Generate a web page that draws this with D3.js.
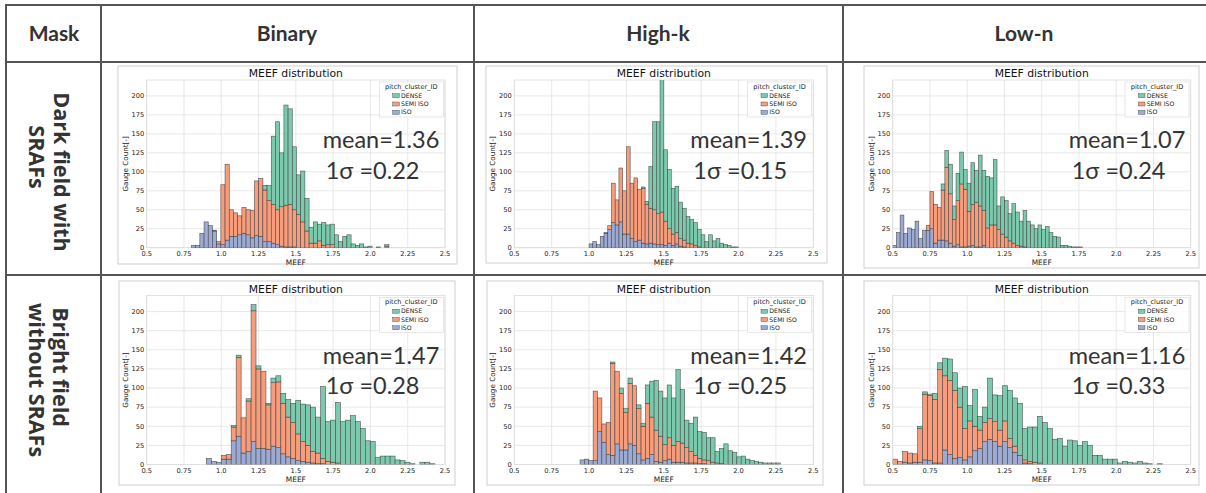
<!DOCTYPE html>
<html lang="en">
<head>
<meta charset="UTF-8">
<title>MEEF distribution by mask</title>
<script src="https://d3js.org/d3.v7.min.js"></script>
<style>
  html, body { margin: 0; padding: 0; background: #fff; }
  svg { display: block; }
</style>
</head>
<body>
<svg id="chart" width="1206" height="493"></svg>
<script>
// ---- data ----
const seriesNames = ["DENSE", "SEMI ISO", "ISO"];
const maskNames = ["Binary", "High-k", "Low-n"];
const rowLabels = [["Dark field with", "SRAFs"], ["Bright field", "without SRAFs"]];
const xTickValues = [0.5, 0.75, 1.0, 1.25, 1.5, 1.75, 2.0, 2.25, 2.5];
const xTickLabels = ["0.5", "0.75", "1.0", "1.25", "1.5", "1.75", "2.0", "2.25", "2.5"];
const yTickValues = [0, 25, 50, 75, 100, 125, 150, 175, 200];
const meanValues = ["1.36", "1.39", "1.07", "1.47", "1.42", "1.16"];
const sigmaValues = ["0.22", "0.15", "0.24", "0.28", "0.25", "0.33"];

// histogram bins (first edge, width) per panel
const binStart = [0.8, 1.0, 0.5, 0.9, 0.94, 0.5];
const binWidth = [0.02817, 0.025, 0.025, 0.0333, 0.02913, 0.0335];

// Binary, dark field
const binDarkIso = [3,3,19,34,29,22,5,4,10,15,15,17,19,17,13,16,15,8,8,6,4,2,1,1,1,0,0,0,0,0,0,0,0,0,0,0,0,0,0,0,0,0,0,0,0,0,0];
const binDarkSemi = [0,0,0,0,0,0,3,79,100,35,31,25,34,33,36,72,76,68,54,51,46,52,55,56,49,44,34,22,6,6,9,3,4,4,0,0,0,0,0,0,0,0,0,0,0,0,2];
const binDarkDense = [0,0,0,0,0,1,0,0,0,0,0,0,0,0,0,0,0,6,20,90,116,71,132,126,83,52,67,43,21,28,22,30,26,27,17,8,15,17,5,3,5,1,2,0,1,0,2];
// High-k, dark field
const hikDarkIso = [5,8,4,15,19,24,33,30,34,18,18,12,8,10,6,5,6,5,4,4,3,6,3,5,2,1,0,0,0,0,0,0,0,0,0,0,0,0,0,0];
const hikDarkSemi = [0,0,0,0,0,5,52,33,71,57,115,73,84,67,72,52,46,45,41,43,32,19,15,15,10,9,6,5,3,1,0,0,0,0,0,0,0,0,0,0];
const hikDarkDense = [0,0,0,0,1,0,0,0,0,0,0,0,0,0,2,4,55,116,121,175,94,78,60,61,48,42,35,32,30,23,17,8,17,9,12,6,4,3,1,1];
// Low-n, dark field
const lownDarkIso = [3,20,43,19,26,24,35,12,23,23,25,6,10,10,9,6,2,4,1,1,2,3,1,1,3,0,0,0,0,0,0,0,0,0,0,0,0,0,0,0,0,0,0,0,0,0,0,0,0,0,0];
const lownDarkSemi = [0,0,0,0,0,0,0,0,0,6,49,51,43,66,97,65,35,58,83,76,46,54,59,54,46,26,30,30,24,18,14,9,6,3,2,1,0,0,0,0,0,0,0,0,0,0,0,0,0,0,0];
const lownDarkDense = [0,0,0,0,0,0,0,0,0,0,0,0,0,8,22,39,18,36,42,26,37,55,42,67,53,68,62,86,31,49,48,36,52,44,33,48,35,30,25,30,24,28,20,15,14,3,3,2,1,1,1];
// Binary, bright field
const binBrightIso = [8,4,3,7,7,31,37,15,17,30,21,21,20,24,22,14,10,8,5,4,3,2,1,1,0,0,0,0,0,0,0,0,0,0,0,0,0,0,0,0,0,0,0,0,0,0];
const binBrightSemi = [0,0,0,5,6,18,103,46,66,171,104,101,58,83,86,66,52,47,35,26,22,15,14,7,4,3,2,0,0,0,0,0,0,0,0,0,0,0,0,0,0,0,0,0,0,0];
const binBrightDense = [0,0,0,0,0,2,3,0,3,8,4,0,2,6,8,13,23,25,44,49,53,58,47,94,52,55,79,56,58,64,56,47,31,30,9,11,11,11,6,5,3,1,0,3,3,1];
// High-k, bright field
const hikBrightIso = [6,7,5,5,43,29,13,12,27,19,19,27,25,14,6,8,13,4,3,5,7,3,3,3,2,2,2,1,1,0,0,0,0,0,0,0,0,0,0,0,0,0,0,0,0,0];
const hikBrightSemi = [0,0,0,91,44,24,42,120,95,74,49,79,78,59,44,72,49,41,34,21,28,22,27,25,20,15,10,7,5,5,3,2,1,0,0,0,0,0,0,0,0,0,0,0,0,0];
const hikBrightDense = [0,0,0,0,0,0,0,2,0,7,5,7,0,5,4,24,47,65,59,61,69,62,94,70,36,37,50,35,36,30,32,15,20,27,18,16,10,11,7,5,4,3,2,2,2,2];
// Low-n, bright field
const lownBrightIso = [0,0,3,2,3,3,6,5,2,2,19,13,8,9,6,10,18,21,30,33,30,24,30,22,16,12,2,1,0,0,0,0,0,0,0,0,0,0,0,0,0,0,0,0,0,0,0,0,0,0,0,0,0,0];
const lownBrightSemi = [7,4,14,13,11,44,86,85,83,122,97,97,89,66,41,47,32,24,25,27,26,21,27,12,8,0,4,3,3,2,0,0,0,0,0,0,0,0,0,0,0,0,0,0,0,0,0,0,0,0,0,0,0,0];
const lownBrightDense = [0,0,0,0,0,3,3,2,8,9,23,28,23,25,55,20,48,18,20,53,35,45,46,63,63,68,41,45,46,61,55,47,33,34,24,32,31,25,30,25,12,12,7,7,7,2,4,3,2,4,2,1,0,1];

// ---- drawing ----
const panelSeries = [
  [binDarkIso, binDarkSemi, binDarkDense],
  [hikDarkIso, hikDarkSemi, hikDarkDense],
  [lownDarkIso, lownDarkSemi, lownDarkDense],
  [binBrightIso, binBrightSemi, binBrightDense],
  [hikBrightIso, hikBrightSemi, hikBrightDense],
  [lownBrightIso, lownBrightSemi, lownBrightDense]
];

// frame box and axes box of each panel picture
const panelBoxes = [
  { fx: 118, fy: 66, fw: 339, fh: 198, ax: 146.7, ay: 80, aw: 298.3, ah: 167.7 },
  { fx: 486, fy: 66, fw: 341, fh: 197, ax: 514.3, ay: 80, aw: 299, ah: 167.7 },
  { fx: 864, fy: 66, fw: 335, fh: 202, ax: 892.7, ay: 80, aw: 298, ah: 167.7 },
  { fx: 119, fy: 281, fw: 336, fh: 204, ax: 146.7, ay: 295.5, aw: 298.3, ah: 169 },
  { fx: 487, fy: 281, fw: 336, fh: 204, ax: 514.3, ay: 295.5, aw: 299, ah: 169 },
  { fx: 864, fy: 281, fw: 335, fh: 204, ax: 892.7, ay: 295.5, aw: 298, ah: 169 }
];

const colors = { dense: "#7ccaad", semi: "#f79d7b", iso: "#9dabd4" };
const tickFont = "DejaVu Sans, sans-serif";
const svg = d3.select("#chart");

// table grid
const lineColor = "#555";
const colEdges = [6, 101, 474, 843];
[5, 62, 275].forEach(y => {
  svg.append("line").attr("x1", 6).attr("x2", 1206).attr("y1", y).attr("y2", y)
    .attr("stroke", lineColor).attr("stroke-width", 2);
});
colEdges.forEach(x => {
  svg.append("line").attr("x1", x).attr("x2", x).attr("y1", 4).attr("y2", 493)
    .attr("stroke", lineColor).attr("stroke-width", 2);
});

// header
const headerCenters = [54, 287, 658, 1024];
["Mask"].concat(maskNames).forEach((t, i) => {
  svg.append("text").attr("x", headerCenters[i]).attr("y", 41)
    .attr("text-anchor", "middle").attr("font-family", "Lato, sans-serif")
    .attr("font-weight", "bold").attr("font-size", 21).attr("fill", "#333").text(t);
});

// row labels, rotated
const rowLabelPos = [
  [{ x: 62, y: 172 }, { x: 37, y: 157 }],
  [{ x: 61, y: 367 }, { x: 37, y: 380 }]
];
rowLabels.forEach((lines, r) => {
  lines.forEach((t, k) => {
    const p = rowLabelPos[r][k];
    svg.append("text")
      .attr("transform", `translate(${p.x},${p.y}) rotate(90)`)
      .attr("text-anchor", "middle").attr("dy", "0.35em")
      .attr("font-family", "Open Sans, sans-serif").attr("font-weight", "bold")
      .attr("font-size", 21.5).attr("fill", "#333").text(t);
  });
});

function drawPanel(i) {
  const b = panelBoxes[i];
  const [isoVals, semiVals, denseVals] = panelSeries[i];
  const g = svg.append("g");

  g.append("rect").attr("x", b.fx).attr("y", b.fy).attr("width", b.fw).attr("height", b.fh)
    .attr("fill", "#fff").attr("stroke", "#cfcfcf").attr("stroke-width", 1);

  const x = d3.scaleLinear().domain([0.5, 2.5]).range([b.ax, b.ax + b.aw]);
  const y = d3.scaleLinear().domain([0, 221]).range([b.ay + b.ah, b.ay]);

  // grid
  g.selectAll(".vg").data(xTickValues).enter().append("line")
    .attr("x1", d => x(d)).attr("x2", d => x(d)).attr("y1", b.ay).attr("y2", b.ay + b.ah)
    .attr("stroke", "#e2e2e2").attr("stroke-width", 0.8);
  g.selectAll(".hg").data(yTickValues).enter().append("line")
    .attr("x1", b.ax).attr("x2", b.ax + b.aw).attr("y1", d => y(d)).attr("y2", d => y(d))
    .attr("stroke", "#e2e2e2").attr("stroke-width", 0.8);
  g.append("rect").attr("x", b.ax).attr("y", b.ay).attr("width", b.aw).attr("height", b.ah)
    .attr("fill", "none").attr("stroke", "#dcdcdc").attr("stroke-width", 0.8);

  // stacked histogram
  const rows = isoVals.map((v, k) => ({
    x0: binStart[i] + k * binWidth[i],
    iso: v, semi: semiVals[k], dense: denseVals[k]
  }));
  const stack = d3.stack().keys(["iso", "semi", "dense"])(rows);
  const clipId = "clip" + i;
  g.append("clipPath").attr("id", clipId).append("rect")
    .attr("x", b.ax).attr("y", b.ay).attr("width", b.aw).attr("height", b.ah);
  const bars = g.append("g").attr("clip-path", `url(#${clipId})`);
  stack.forEach(layer => {
    bars.selectAll(null).data(layer.filter(d => d[1] > d[0])).enter().append("rect")
      .attr("x", d => x(d.data.x0))
      .attr("width", x(binStart[i] + binWidth[i]) - x(binStart[i]))
      .attr("y", d => y(d[1]))
      .attr("height", d => y(d[0]) - y(d[1]))
      .attr("fill", colors[layer.key])
      .attr("stroke", "#3c3c3c").attr("stroke-width", 0.6).attr("stroke-opacity", 0.85);
  });

  // tick labels
  g.selectAll(".xt").data(xTickValues).enter().append("text")
    .attr("x", d => x(d)).attr("y", b.ay + b.ah + 8.7)
    .attr("text-anchor", "middle").attr("font-family", tickFont).attr("font-size", 6.7)
    .attr("fill", "#222").text((d, k) => xTickLabels[k]);
  g.selectAll(".yt").data(yTickValues).enter().append("text")
    .attr("x", b.ax - 2.5).attr("y", d => y(d)).attr("dy", "0.35em")
    .attr("text-anchor", "end").attr("font-family", tickFont).attr("font-size", 6.7)
    .attr("fill", "#222").text(d => d);

  // titles
  g.append("text").attr("x", b.ax + b.aw / 2).attr("y", b.ay - 3)
    .attr("text-anchor", "middle").attr("font-family", tickFont).attr("font-size", 10.8)
    .attr("fill", "#111").text("MEEF distribution");
  g.append("text").attr("x", b.ax + b.aw / 2).attr("y", b.ay + b.ah + 17.5)
    .attr("text-anchor", "middle").attr("font-family", tickFont).attr("font-size", 7.4)
    .attr("fill", "#222").text("MEEF");
  g.append("text")
    .attr("transform", `translate(${b.ax - 21.7},${b.ay + b.ah / 2}) rotate(-90)`)
    .attr("text-anchor", "middle").attr("dy", "0.35em").attr("font-family", tickFont)
    .attr("font-size", 7.2).attr("fill", "#222").text("Gauge Count[-]");

  // legend
  const lx = b.ax + b.aw - 65.7, ly = b.ay + 2;
  g.append("rect").attr("x", lx).attr("y", ly).attr("width", 64).attr("height", 35)
    .attr("fill", "#fff").attr("fill-opacity", 0.85).attr("stroke", "#d8d8d8").attr("stroke-width", 0.6);
  g.append("text").attr("x", lx + 32).attr("y", ly + 6.8)
    .attr("text-anchor", "middle").attr("font-family", tickFont).attr("font-size", 6.6)
    .attr("fill", "#222").text("pitch_cluster_ID");
  const legendKeys = ["dense", "semi", "iso"];
  seriesNames.forEach((name, k) => {
    const cy = ly + 13.7 + k * 8.3;
    g.append("rect").attr("x", lx + 13.4).attr("y", cy - 2).attr("width", 6.6).attr("height", 4)
      .attr("fill", colors[legendKeys[k]]).attr("stroke", "#3c3c3c").attr("stroke-width", 0.4);
    g.append("text").attr("x", lx + 21.7).attr("y", cy).attr("dy", "0.35em")
      .attr("font-family", tickFont).attr("font-size", 6.2).attr("fill", "#222").text(name);
  });

  // statistics
  g.append("text").attr("x", b.ax + 176).attr("y", b.ay + 68.3)
    .attr("font-family", "Lato, sans-serif").attr("font-size", 23.5).attr("fill", "#333")
    .text("mean=" + meanValues[i]);
  g.append("text").attr("x", b.ax + 179).attr("y", b.ay + 98.9)
    .attr("font-family", "Lato, sans-serif").attr("font-size", 23.5).attr("fill", "#333")
    .text("1\u03C3 =" + sigmaValues[i]);
}

panelBoxes.forEach((b, i) => drawPanel(i));
</script>
</body>
</html>
